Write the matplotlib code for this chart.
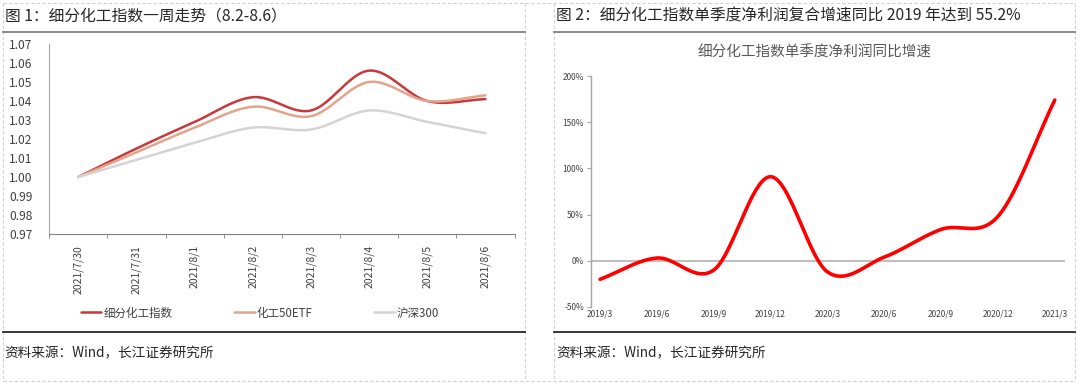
import numpy as np
import matplotlib.pyplot as plt
from matplotlib.lines import Line2D

plt.rcParams['font.family'] = ['Noto Sans CJK SC', 'DejaVu Sans']

# left chart: weekly index trend
dates = ['2021/7/30', '2021/7/31', '2021/8/1', '2021/8/2',
         '2021/8/3', '2021/8/4', '2021/8/5', '2021/8/6']
idx_chem = [1.000, 1.015, 1.029, 1.042, 1.035, 1.056, 1.040, 1.041]
etf_chem = [1.000, 1.013, 1.026, 1.037, 1.032, 1.050, 1.040, 1.043]
hs300 = [1.000, 1.009, 1.018, 1.026, 1.025, 1.035, 1.029, 1.023]
left_names = ['细分化工指数', '化工50ETF', '沪深300']
left_colors = ['#C9383A', '#E3A48C', '#D4D4D4']

# right chart: quarterly net profit growth (%)
quarters = ['2019/3', '2019/6', '2019/9', '2019/12', '2020/3',
            '2020/6', '2020/9', '2020/12', '2021/3']
profit_yoy = [-20, 3, -10, 91, -12, 4, 34, 48, 174]

W, H = 1080, 385


def smooth(y, n=40):
    # catmull-rom curve through the points, like excel's smoothed line
    y = np.asarray(y, dtype=float)
    x = np.arange(len(y), dtype=float)
    px = np.concatenate([[2 * x[0] - x[1]], x, [2 * x[-1] - x[-2]]])
    py = np.concatenate([[2 * y[0] - y[1]], y, [2 * y[-1] - y[-2]]])
    t = np.linspace(0, 1, n, endpoint=False)
    xs, ys = [], []
    for i in range(1, len(px) - 2):
        for p, out in ((px, xs), (py, ys)):
            p0, p1, p2, p3 = p[i - 1], p[i], p[i + 1], p[i + 2]
            out.append(0.5 * ((2 * p1) + (-p0 + p2) * t +
                              (2 * p0 - 5 * p1 + 4 * p2 - p3) * t ** 2 +
                              (-p0 + 3 * p1 - 3 * p2 + p3) * t ** 3))
    xs.append([x[-1]])
    ys.append([y[-1]])
    return np.concatenate(xs), np.concatenate(ys)


def fline(x0, y0, x1, y1, **kw):
    fig.add_artist(Line2D([x0 / W, x1 / W], [1 - y0 / H, 1 - y1 / H],
                          transform=fig.transFigure, **kw))


def ftext(x, y, s, **kw):
    fig.text(x / W, 1 - y / H, s, **kw)


fig = plt.figure(figsize=(10.8, 3.85), dpi=100)

# panel frames
dash = dict(color='#D0D0D0', lw=0.8, ls=(0, (3, 2)))
fline(3, 3, 1075, 3, **dash)
fline(3, 381, 1075, 381, **dash)
for xv in (3, 525, 554, 1075):
    fline(xv, 3, xv, 381, **dash)
fline(3, 32, 525, 32, color='#7F7F7F', lw=1.3)
fline(554, 32, 1075, 32, color='#7F7F7F', lw=1.3)
fline(3, 332, 525, 332, color='#262626', lw=1.3)
fline(554, 332, 1075, 332, color='#262626', lw=1.3)

ftext(5, 16, '图 1：细分化工指数一周走势（8.2-8.6）', fontsize=11.3,
      color='#262626', va='center')
ftext(556, 16, '图 2：细分化工指数单季度净利润复合增速同比 2019 年达到 55.2%',
      fontsize=11.3, color='#262626', va='center')
ftext(4, 353, '资料来源：Wind，长江证券研究所', fontsize=9.8,
      color='#262626', va='center')
ftext(556, 353, '资料来源：Wind，长江证券研究所', fontsize=9.8,
      color='#262626', va='center')

# ---- left chart
ax1 = fig.add_axes([49.3 / W, 1 - 234 / H, 465.2 / W, 190 / H])
for vals, name, c in zip([idx_chem, etf_chem, hs300], left_names, left_colors):
    sx, sy = smooth(vals)
    ax1.plot(sx, sy, color=c, lw=1.8, label=name, solid_capstyle='round')
ax1.set_xlim(-0.5, len(dates) - 0.5)
ax1.set_ylim(0.97, 1.07)
ax1.set_yticks(np.arange(0.97, 1.0701, 0.01))
ax1.set_yticklabels([f'{v:.2f}' for v in np.arange(0.97, 1.0701, 0.01)])
ax1.set_xticks(range(len(dates)))
ax1.set_xticklabels(dates, rotation=90)
ax1.set_xticks(np.arange(-0.5, len(dates), 1.0), minor=True)
ax1.tick_params(axis='x', which='major', length=0, pad=8, labelsize=7.5,
                labelcolor='#404040')
ax1.tick_params(axis='x', which='minor', length=3, color='#808080')
ax1.tick_params(axis='y', length=0, pad=12, labelsize=8.6, labelcolor='#404040')
for s in ('top', 'right'):
    ax1.spines[s].set_visible(False)
ax1.spines['left'].set_color('#A6A6A6')
ax1.spines['bottom'].set_color('#808080')
ax1.legend(loc='center left', bbox_to_anchor=(76 / W, 1 - 313 / H),
           bbox_transform=fig.transFigure, ncol=3, frameon=False,
           fontsize=8.3, handlelength=1.8, handletextpad=0.2,
           columnspacing=5.3, borderaxespad=0, labelcolor='#404040')

# ---- right chart
ax2 = fig.add_axes([591 / W, 1 - 307 / H, 474 / W, 231 / H])
sx, sy = smooth(profit_yoy)
ax2.axhline(0, color='#BFBFBF', lw=1.5, zorder=1)
ax2.plot(sx, sy, color='#FF0000', lw=2.6, solid_capstyle='round', zorder=3)
ax2.set_xlim(-0.16, len(quarters) - 1 + 0.18)
ax2.set_ylim(-50, 200)
ax2.set_yticks(range(-50, 201, 50))
ax2.set_yticklabels([f'{v}%' for v in range(-50, 201, 50)])
ax2.set_xticks(range(len(quarters)))
ax2.set_xticklabels(quarters)
ax2.tick_params(axis='x', length=0, pad=2, labelsize=6, labelcolor='#404040')
ax2.tick_params(axis='y', length=3, color='#A6A6A6', pad=2, labelsize=6,
                labelcolor='#404040')
for s in ('top', 'right', 'bottom'):
    ax2.spines[s].set_visible(False)
ax2.spines['left'].set_color('#A6A6A6')
ax2.spines['left'].set_linewidth(1.0)
ftext(814, 53, '细分化工指数单季度净利润同比增速', fontsize=10.5,
      color='#595959', ha='center', va='center')

fig.savefig('out.png', dpi=100)
